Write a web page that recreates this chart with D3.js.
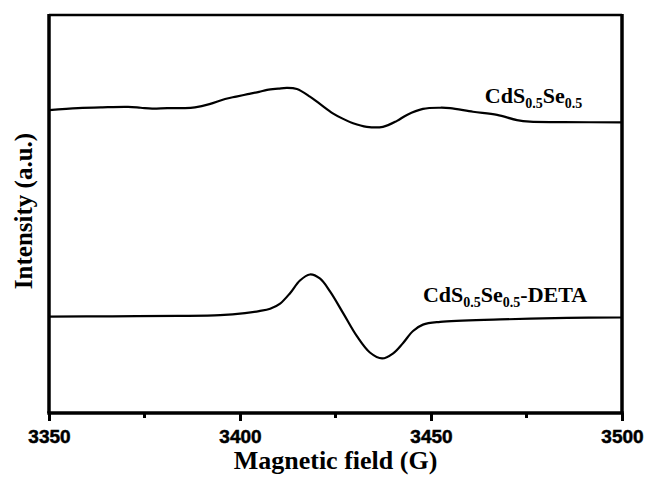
<!DOCTYPE html>
<html>
<head>
<meta charset="utf-8">
<script src="https://cdn.jsdelivr.net/npm/d3@7"></script>
<style>
  body { margin: 0; background: #fff; }
</style>
</head>
<body>
<div id="chart"></div>
<script>
// magnetic field (G) and intensity (a.u.)
var fieldTop = [3350, 3357.6, 3364, 3370.7, 3374, 3377, 3381, 3385.6, 3388.2, 3392, 3396.1, 3399, 3402, 3405, 3407.1,
  3410, 3412.3, 3414.9, 3418.3, 3421, 3424.3, 3427, 3429.6, 3433.2, 3437.4, 3441.1, 3443.7, 3447.9, 3452.4,
  3455, 3461, 3467.3, 3472.5, 3475.9, 3484.6, 3500];
var intensityTop = [76.1, 76.6, 76.8, 76.9, 76.7, 76.5, 76.6, 76.6, 76.8, 77.6, 78.9, 79.5, 80.1, 80.7, 81.2,
  81.5, 81.7, 81.4, 79.5, 77.6, 75.3, 73.9, 72.8, 71.9, 71.9, 73.4, 74.9, 76.4, 76.7,
  76.6, 75.7, 74.9, 73.6, 73.2, 73.1, 73.0];

var fieldBottom = [3350, 3366.5, 3383.8, 3394.8, 3401.3, 3405, 3407.9, 3410.5, 3413.1, 3415.7, 3418.3, 3420.9,
  3423.6, 3427, 3430.6, 3434, 3437.2, 3440.1, 3442.7, 3445.3, 3447.9, 3452.4, 3468.1, 3485.6, 3500];
var intensityBottom = [24.2, 24.3, 24.4, 24.6, 25.1, 25.6, 26.2, 27.5, 30.1, 33.3, 34.8, 33.8,
  30.5, 25.1, 19.3, 15.2, 13.7, 15.0, 17.6, 20.6, 22.2, 22.9, 23.5, 23.9, 24.0];

var majorTicks = [3350, 3400, 3450, 3500];
var minorTicks = [3375, 3425, 3475];

// set the dimensions and margins of the graph
var margin = {top: 15, right: 25, bottom: 64, left: 49},
    width = 647 - margin.left - margin.right,
    height = 477 - margin.top - margin.bottom;

var x = d3.scaleLinear().domain([3350, 3500]).range([0, width]);
var y = d3.scaleLinear().domain([0, 100]).range([height, 0]);

var serif = '"Liberation Serif", "Times New Roman", serif';

var svg = d3.select("#chart").append("svg")
    .attr("width", 647)
    .attr("height", 477)
  .append("g")
    .attr("transform", "translate(" + margin.left + "," + margin.top + ")");

var line = d3.line()
    .x(function(d) { return x(d[0]); })
    .y(function(d) { return y(d[1]); })
    .curve(d3.curveCatmullRom.alpha(0.5));

var topData = fieldTop.map(function(f, i) { return [f, intensityTop[i]]; });
var bottomData = fieldBottom.map(function(f, i) { return [f, intensityBottom[i]]; });

[topData, bottomData].forEach(function(data) {
  svg.append("path")
      .datum(data)
      .attr("fill", "none")
      .attr("stroke", "#000")
      .attr("stroke-width", 2.2)
      .attr("stroke-linejoin", "round")
      .attr("d", line);
});

// frame
svg.append("line").attr("x1", 0).attr("x2", width).attr("y1", 0).attr("y2", 0)
    .attr("stroke", "#000").attr("stroke-width", 2.5);
svg.append("line").attr("x1", 0).attr("x2", 0).attr("y1", -1).attr("y2", height)
    .attr("stroke", "#000").attr("stroke-width", 3.5);
svg.append("line").attr("x1", width).attr("x2", width).attr("y1", -1).attr("y2", height)
    .attr("stroke", "#000").attr("stroke-width", 3.5);

// x axis
var xAxis = svg.append("g")
    .attr("transform", "translate(0," + height + ")")
    .call(d3.axisBottom(x).tickValues(majorTicks).tickSize(8).tickSizeOuter(0).tickFormat(d3.format("d")));
xAxis.select(".domain").attr("stroke-width", 3.5).attr("d", "M-1.75,0H" + (width + 1.75));
xAxis.selectAll(".tick line").attr("stroke-width", 3);
xAxis.selectAll(".tick text")
    .attr("fill", "#000")
    .attr("stroke", "#000")
    .attr("stroke-width", 0.5)
    .attr("y", 17)
    .style("font-family", '"Liberation Sans", Arial, sans-serif')
    .style("font-weight", "bold")
    .style("font-size", "19px");

svg.append("g")
    .attr("transform", "translate(0," + height + ")")
    .selectAll("line")
    .data(minorTicks)
  .enter().append("line")
    .attr("x1", function(d) { return x(d); })
    .attr("x2", function(d) { return x(d); })
    .attr("y1", 0)
    .attr("y2", 5)
    .attr("stroke", "#000")
    .attr("stroke-width", 3);

// axis titles
svg.append("text")
    .attr("x", width / 2)
    .attr("y", height + 56)
    .attr("text-anchor", "middle")
    .style("font-family", serif)
    .style("font-weight", "bold")
    .style("font-size", "26px")
    .text("Magnetic field (G)");

svg.append("text")
    .attr("transform", "rotate(-90)")
    .attr("x", -196)
    .attr("y", -17)
    .attr("text-anchor", "middle")
    .style("font-family", serif)
    .style("font-weight", "bold")
    .style("font-size", "25px")
    .text("Intensity (a.u.)");

// series labels
function seriesLabel(field, value, suffix) {
  var t = svg.append("text")
      .attr("x", x(field))
      .attr("y", y(value))
      .style("font-family", serif)
      .style("font-weight", "bold")
      .style("font-size", "22px");
  t.append("tspan").text("CdS");
  t.append("tspan").attr("dy", 5).style("font-size", "14px").text("0.5");
  t.append("tspan").attr("dy", -5).text("Se");
  t.append("tspan").attr("dy", 5).style("font-size", "14px").text("0.5");
  if (suffix) t.append("tspan").attr("dy", -5).text(suffix);
}
seriesLabel(3464.1, 77.9, null);
seriesLabel(3447.9, 27.9, "-DETA");
</script>
</body>
</html>
